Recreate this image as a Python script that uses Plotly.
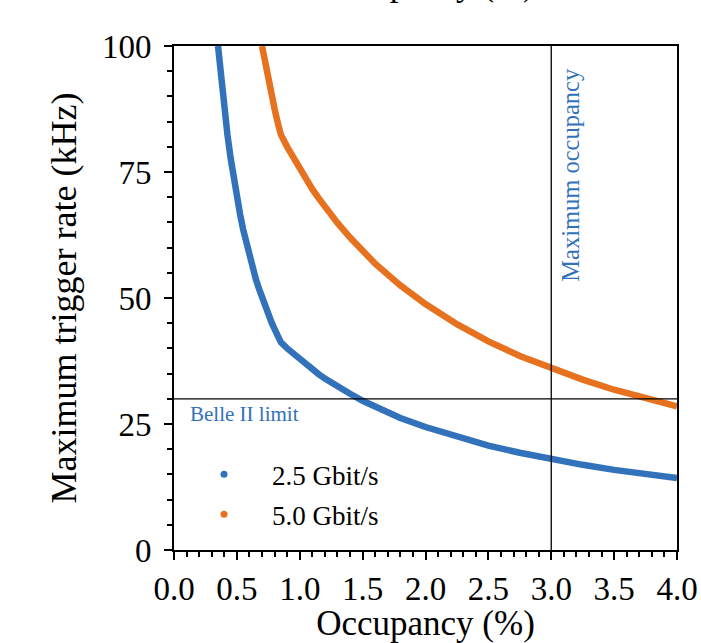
import plotly.graph_objects as go

# Data
occ_25 = [0.350, 0.375, 0.400, 0.425, 0.450, 0.475, 0.500, 0.525, 0.550, 0.575,
          0.600, 0.625, 0.650, 0.675, 0.700, 0.725, 0.750, 0.775, 0.800, 0.825,
          0.850, 0.90, 0.95, 1.00, 1.05, 1.10, 1.15, 1.20, 1.30, 1.40, 1.50, 1.60,
          1.80, 2.00, 2.25, 2.50, 2.75, 3.00, 3.25, 3.50, 3.75, 4.00]
rate_25 = [100.0, 93.3, 87.5, 82.4, 77.8, 73.7, 70.0, 66.7, 63.6, 60.9,
           58.3, 56.0, 53.8, 51.9, 50.0, 48.3, 46.7, 45.2, 43.8, 42.4,
           41.2, 40.0, 38.9, 37.8, 36.8, 35.8, 34.9, 34.0, 32.4, 31.0, 29.6, 28.4,
           26.2, 24.4, 22.4, 20.7, 19.3, 18.0, 16.9, 15.9, 15.0, 14.3]
occ_50 = [0.700, 0.725, 0.750, 0.775, 0.800, 0.825, 0.850,
          0.90, 0.95, 1.00, 1.05, 1.10, 1.15, 1.20, 1.30, 1.40, 1.50, 1.60,
          1.80, 2.00, 2.25, 2.50, 2.75, 3.00, 3.25, 3.50, 3.75, 4.00]
rate_50 = [100.0, 96.6, 93.3, 90.3, 87.5, 84.8, 82.4,
           80.0, 77.8, 75.6, 73.6, 71.6, 69.8, 68.1, 64.9, 62.0, 59.3, 56.8,
           52.5, 48.8, 44.8, 41.4, 38.5, 36.0, 33.8, 31.8, 30.0, 28.5]
series_names = ["2.5 Gbit/s", "5.0 Gbit/s"]
belle_limit = 30
max_occupancy = 3.0
x_ticks = [0.0, 0.5, 1.0, 1.5, 2.0, 2.5, 3.0, 3.5, 4.0]
y_ticks = [0, 25, 50, 75, 100]

BLUE = "#3272ba"
ORANGE = "#e6711f"
FONT = "Liberation Serif"

fig = go.Figure()
fig.add_trace(go.Scatter(x=occ_25, y=rate_25, mode="lines",
                         line=dict(color=BLUE, width=6.5), showlegend=False))
fig.add_trace(go.Scatter(x=occ_50, y=rate_50, mode="lines",
                         line=dict(color=ORANGE, width=6.5), showlegend=False))
# legend entries (dots)
for name, col, grp in [(series_names[0], BLUE, "a"), (series_names[1], ORANGE, "b")]:
    fig.add_trace(go.Scatter(x=[None], y=[None], mode="markers", name=name,
                             legendgroup=grp,
                             marker=dict(color=col, size=7)))

fig.add_hline(y=belle_limit, line=dict(color="black", width=1.3))
fig.add_vline(x=max_occupancy, line=dict(color="black", width=1.3))

fig.add_annotation(x=0.115, y=belle_limit, xref="x", yref="y", text="Belle II limit",
                   showarrow=False, xanchor="left", yanchor="top", yshift=-1,
                   font=dict(family=FONT, size=21, color=BLUE))
fig.add_annotation(x=max_occupancy, y=100, xref="x", yref="y", text="Maximum occupancy",
                   showarrow=False, textangle=-90, xanchor="left", yanchor="top",
                   xshift=3, yshift=-20,
                   font=dict(family=FONT, size=24.5, color=BLUE))
# top title (cropped in the reference)
fig.add_annotation(x=0.5, y=1, xref="paper", yref="paper", text="Occupancy (%)",
                   showarrow=False, xanchor="center", yanchor="bottom", yshift=41,
                   font=dict(family=FONT, size=35, color="black"))

axis_common = dict(showline=True, linecolor="black", linewidth=2, mirror=True,
                   ticks="outside", ticklen=8, tickwidth=2, tickcolor="black",
                   showgrid=False, zeroline=False,
                   tickfont=dict(family=FONT, size=33, color="black"))
fig.update_xaxes(range=[0, 4], tickvals=x_ticks, ticktext=[f"{v:.1f}" for v in x_ticks],
                 title=dict(text="Occupancy (%)", font=dict(family=FONT, size=35, color="black"),
                            standoff=17),
                 minor=dict(dtick=0.1, ticks="outside", ticklen=5, tickwidth=1.5, tickcolor="black"),
                 **axis_common)
fig.update_yaxes(range=[0, 100], tickvals=y_ticks, ticklabelstandoff=6,
                 title=dict(text="Maximum trigger rate (kHz)",
                            font=dict(family=FONT, size=36, color="black"), standoff=14),
                 minor=dict(dtick=5, ticks="outside", ticklen=5, tickwidth=1.5, tickcolor="black"),
                 **axis_common)

fig.update_layout(
    width=701, height=643,
    margin=dict(l=174, r=24, t=46, b=93, autoexpand=False),
    plot_bgcolor="white", paper_bgcolor="white",
    legend=dict(x=0.004, y=0.198, xanchor="left", yanchor="top", itemwidth=86,
                bgcolor="rgba(0,0,0,0)", tracegroupgap=2,
                font=dict(family=FONT, size=27, color="black")),
)

fig.write_html("out.html", config={"displayModeBar": False},
               post_script="document.body.style.margin='0';")
